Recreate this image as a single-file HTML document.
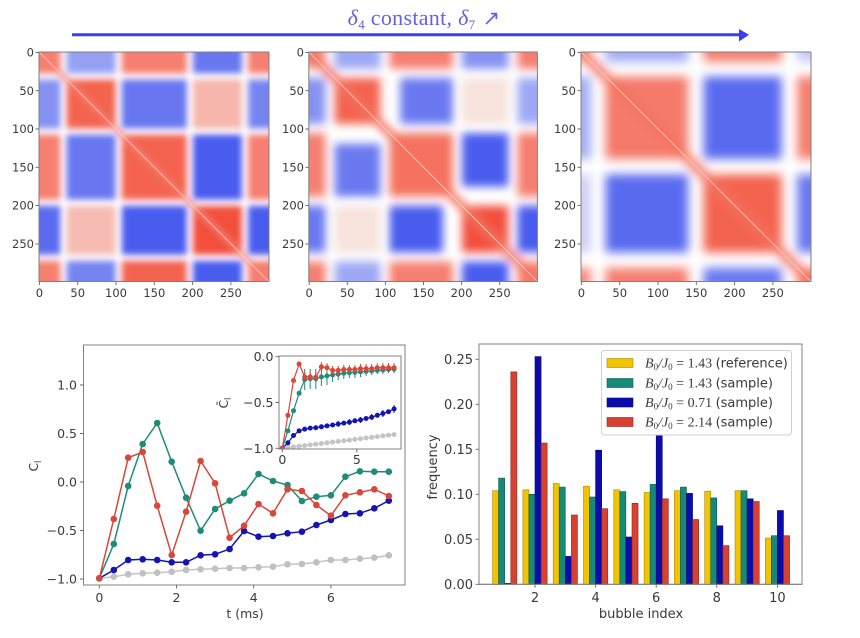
<!DOCTYPE html>
<html><head><meta charset="utf-8"><style>
html,body{margin:0;padding:0;background:#fff;}
svg{display:block;}
text{font-family:"DejaVu Sans","Liberation Sans",sans-serif;fill:#3a3a3a;}
</style></head><body>
<svg width="860" height="638" viewBox="0 0 860 638" xmlns="http://www.w3.org/2000/svg">
<defs>
<filter id="bl1" x="-20%" y="-20%" width="140%" height="140%"><feGaussianBlur stdDeviation="4"/></filter>
<filter id="bl2" x="-20%" y="-20%" width="140%" height="140%"><feGaussianBlur stdDeviation="6"/></filter>
<filter id="bl3" x="-20%" y="-20%" width="140%" height="140%"><feGaussianBlur stdDeviation="6.5"/></filter>
<clipPath id="hc"><rect x="0" y="0" width="300" height="300"/></clipPath>
<clipPath id="insc"><rect x="279" y="356" width="122" height="93"/></clipPath>
<marker id="mR" markerUnits="userSpaceOnUse" markerWidth="8" markerHeight="8" refX="4" refY="4"><circle cx="4" cy="4" r="3.3" fill="#d9463a"/></marker>
<marker id="mT" markerUnits="userSpaceOnUse" markerWidth="8" markerHeight="8" refX="4" refY="4"><circle cx="4" cy="4" r="3.3" fill="#1e8c78"/></marker>
<marker id="mB" markerUnits="userSpaceOnUse" markerWidth="8" markerHeight="8" refX="4" refY="4"><circle cx="4" cy="4" r="3.3" fill="#1414b4"/></marker>
<marker id="mG" markerUnits="userSpaceOnUse" markerWidth="8" markerHeight="8" refX="4" refY="4"><circle cx="4" cy="4" r="3.3" fill="#c0c0c0"/></marker>
<marker id="sR" markerUnits="userSpaceOnUse" markerWidth="6" markerHeight="6" refX="3" refY="3"><circle cx="3" cy="3" r="2.5" fill="#d9463a"/></marker>
<marker id="sT" markerUnits="userSpaceOnUse" markerWidth="6" markerHeight="6" refX="3" refY="3"><circle cx="3" cy="3" r="2.5" fill="#1e8c78"/></marker>
<marker id="sB" markerUnits="userSpaceOnUse" markerWidth="6" markerHeight="6" refX="3" refY="3"><circle cx="3" cy="3" r="2.5" fill="#1414b4"/></marker>
<marker id="sG" markerUnits="userSpaceOnUse" markerWidth="6" markerHeight="6" refX="3" refY="3"><circle cx="3" cy="3" r="2.5" fill="#c4c4c4"/></marker>
</defs>
<rect width="860" height="638" fill="#fff"/>

<!-- Title & arrow -->
<text x="424" y="25" text-anchor="middle" style="font-family:'Liberation Serif',serif;fill:#6262e2" font-size="22" letter-spacing="0.3"><tspan font-style="italic">δ</tspan><tspan font-size="13" dy="4">4</tspan><tspan dy="-4"> constant, </tspan><tspan font-style="italic">δ</tspan><tspan font-size="13" dy="4">7</tspan><tspan dy="-4" style="font-family:'DejaVu Sans',sans-serif" font-size="21"> ↗</tspan></text>
<line x1="72" y1="34.7" x2="741" y2="34.7" stroke="#3c3cf0" stroke-width="3"/>
<polygon points="739,29 749,34.7 739,41.5" fill="#3c3cf0"/>

<!-- Heatmap 1 -->
<g transform="translate(39,52) scale(0.766,0.765)">
 <g clip-path="url(#hc)">
  <rect x="-10" y="-10" width="320" height="320" fill="#fff"/>
  <g filter="url(#bl1)">
   <rect x="-16" y="-16" width="44" height="44" fill="#f57f70"/>
   <rect x="36" y="-16" width="64" height="44" fill="#95a0f3"/>
   <rect x="108" y="-16" width="85" height="44" fill="#f57f70"/>
   <rect x="201" y="-16" width="64" height="44" fill="#6877f0"/>
   <rect x="273" y="-16" width="43" height="44" fill="#f57f70"/>

   <rect x="-16" y="36" width="44" height="64" fill="#8592f2"/>
   <rect x="36" y="36" width="64" height="64" fill="#f3634f"/>
   <rect x="108" y="36" width="85" height="64" fill="#6877f0"/>
   <rect x="201" y="36" width="64" height="64" fill="#f6b6ac"/>
   <rect x="273" y="36" width="43" height="64" fill="#7684f0"/>

   <rect x="-16" y="108" width="44" height="85" fill="#f57f70"/>
   <rect x="36" y="108" width="64" height="85" fill="#6877f0"/>
   <rect x="108" y="108" width="85" height="85" fill="#f3634f"/>
   <rect x="201" y="108" width="64" height="85" fill="#4a5cee"/>
   <rect x="273" y="108" width="43" height="85" fill="#f57f70"/>

   <rect x="-16" y="201" width="44" height="64" fill="#5b6bef"/>
   <rect x="36" y="201" width="64" height="64" fill="#f6bcb3"/>
   <rect x="108" y="201" width="85" height="64" fill="#4a5cee"/>
   <rect x="201" y="201" width="64" height="64" fill="#f2503e"/>
   <rect x="273" y="201" width="43" height="64" fill="#4a5cee"/>

   <rect x="-16" y="273" width="44" height="43" fill="#f57f70"/>
   <rect x="36" y="273" width="64" height="43" fill="#7684f0"/>
   <rect x="108" y="273" width="85" height="43" fill="#f3634f"/>
   <rect x="201" y="273" width="64" height="43" fill="#4a5cee"/>
   <rect x="273" y="273" width="43" height="43" fill="#f57f70"/>
   <line x1="-10" y1="-10" x2="310" y2="310" stroke="#f57f70" stroke-width="6"/>
  </g>
  <line x1="0" y1="0" x2="300" y2="300" stroke="#f9d6c6" stroke-width="1.2" opacity="0.8"/>
 </g>
</g>
<rect x="39" y="52" width="230" height="229.5" fill="none" stroke="#808080" stroke-width="1"/>

<!-- Heatmap 2 -->
<g transform="translate(308.8,52) scale(0.762,0.765)">
 <g clip-path="url(#hc)">
  <rect x="-10" y="-10" width="320" height="320" fill="#fff"/>
  <g filter="url(#bl2)">
   <rect x="-14" y="-14" width="36" height="36" fill="#f58a7c"/>
   <rect x="34" y="-14" width="60" height="36" fill="#9ea8f4"/>
   <rect x="106" y="-14" width="83" height="36" fill="#f57f70"/>
   <rect x="201" y="-14" width="61" height="36" fill="#8592f2"/>
   <rect x="274" y="-14" width="40" height="36" fill="#f57f70"/>

   <rect x="-14" y="34" width="36" height="60" fill="#8592f2"/>
   <rect x="34" y="34" width="60" height="60" fill="#f3634f"/>
   <rect x="120" y="34" width="69" height="60" fill="#6a79f0"/>
   <rect x="201" y="34" width="61" height="60" fill="#f7e2dc"/>
   <rect x="274" y="34" width="40" height="60" fill="#9ea8f4"/>

   <rect x="-14" y="106" width="36" height="83" fill="#f57f70"/>
   <rect x="34" y="120" width="60" height="69" fill="#6a79f0"/>
   <rect x="106" y="106" width="83" height="83" fill="#f4725f"/>
   <rect x="201" y="106" width="61" height="70" fill="#4a5cee"/>
   <rect x="274" y="106" width="40" height="83" fill="#f57f70"/>

   <rect x="-14" y="201" width="36" height="61" fill="#6a79f0"/>
   <rect x="34" y="201" width="60" height="61" fill="#f7e2dc"/>
   <rect x="106" y="201" width="70" height="61" fill="#4a5cee"/>
   <rect x="201" y="201" width="61" height="61" fill="#f2503e"/>
   <rect x="274" y="201" width="40" height="61" fill="#4a5cee"/>

   <rect x="-14" y="274" width="36" height="40" fill="#f57f70"/>
   <rect x="34" y="274" width="60" height="40" fill="#9ea8f4"/>
   <rect x="106" y="274" width="83" height="40" fill="#f57f70"/>
   <rect x="201" y="274" width="61" height="40" fill="#4a5cee"/>
   <rect x="274" y="274" width="40" height="40" fill="#f57f70"/>
   <line x1="-10" y1="-10" x2="310" y2="310" stroke="#f4725f" stroke-width="11"/>
  </g>
  <line x1="0" y1="0" x2="300" y2="300" stroke="#f9d6c6" stroke-width="1.2" opacity="0.8"/>
 </g>
</g>
<rect x="308.8" y="52" width="228.6" height="229.5" fill="none" stroke="#808080" stroke-width="1"/>

<!-- Heatmap 3 -->
<g transform="translate(581,52) scale(0.766,0.765)">
 <g clip-path="url(#hc)">
  <rect x="-10" y="-10" width="320" height="320" fill="#fff"/>
  <g filter="url(#bl3)">
   <rect x="-12" y="-12" width="25" height="25" fill="#f6a194"/>
   <rect x="32" y="-12" width="108" height="25" fill="#a3adf5"/>
   <rect x="160" y="-12" width="102" height="25" fill="#f57f70"/>
   <rect x="282" y="-12" width="30" height="25" fill="#c5cbf7"/>

   <rect x="-12" y="32" width="25" height="108" fill="#a3adf5"/>
   <rect x="32" y="32" width="108" height="108" fill="#f57a6a"/>
   <rect x="160" y="32" width="102" height="108" fill="#5a6aef"/>
   <rect x="282" y="32" width="30" height="108" fill="#f57f70"/>

   <rect x="-12" y="160" width="25" height="102" fill="#cfd0f4"/>
   <rect x="32" y="160" width="108" height="102" fill="#5a6aef"/>
   <rect x="160" y="160" width="102" height="102" fill="#f3634f"/>
   <rect x="282" y="160" width="30" height="102" fill="#6a79f0"/>

   <rect x="-12" y="282" width="25" height="30" fill="#f58a7c"/>
   <rect x="32" y="282" width="108" height="30" fill="#f57f70"/>
   <rect x="160" y="282" width="102" height="30" fill="#6a79f0"/>
   <rect x="282" y="282" width="30" height="30" fill="#f57f70"/>
   <line x1="-10" y1="-10" x2="310" y2="310" stroke="#f4725f" stroke-width="12"/>
  </g>
  <line x1="0" y1="0" x2="300" y2="300" stroke="#f9d6c6" stroke-width="1.2" opacity="0.8"/>
 </g>
</g>
<rect x="581" y="52" width="230" height="229.5" fill="none" stroke="#808080" stroke-width="1"/>

<!-- Heatmap ticks -->
<g stroke="#666" stroke-width="0.9">
 <path d="M35.5 52.4h3.5M35.5 90.7h3.5M35.5 129h3.5M35.5 167.3h3.5M35.5 205.6h3.5M35.5 243.9h3.5"/>
 <path d="M39.4 281.5v3.5M77.7 281.5v3.5M116 281.5v3.5M154.3 281.5v3.5M192.6 281.5v3.5M230.9 281.5v3.5"/>
 <path d="M305.3 52.4h3.5M305.3 90.7h3.5M305.3 129h3.5M305.3 167.3h3.5M305.3 205.6h3.5M305.3 243.9h3.5"/>
 <path d="M309.2 281.5v3.5M347.3 281.5v3.5M385.4 281.5v3.5M423.5 281.5v3.5M461.6 281.5v3.5M499.7 281.5v3.5"/>
 <path d="M577.5 52.4h3.5M577.5 90.7h3.5M577.5 129h3.5M577.5 167.3h3.5M577.5 205.6h3.5M577.5 243.9h3.5"/>
 <path d="M581.4 281.5v3.5M619.7 281.5v3.5M658 281.5v3.5M696.3 281.5v3.5M734.6 281.5v3.5M772.9 281.5v3.5"/>
</g>
<g font-size="11.5" text-anchor="end">
 <text x="34" y="56.5">0</text><text x="34" y="94.8">50</text><text x="34" y="133.1">100</text><text x="34" y="171.4">150</text><text x="34" y="209.7">200</text><text x="34" y="248">250</text>
 <text x="304" y="56.5">0</text><text x="304" y="94.8">50</text><text x="304" y="133.1">100</text><text x="304" y="171.4">150</text><text x="304" y="209.7">200</text><text x="304" y="248">250</text>
 <text x="576" y="56.5">0</text><text x="576" y="94.8">50</text><text x="576" y="133.1">100</text><text x="576" y="171.4">150</text><text x="576" y="209.7">200</text><text x="576" y="248">250</text>
</g>
<g font-size="11.5" text-anchor="middle">
 <text x="39.4" y="297">0</text><text x="77.7" y="297">50</text><text x="116" y="297">100</text><text x="154.3" y="297">150</text><text x="192.6" y="297">200</text><text x="230.9" y="297">250</text>
 <text x="309.2" y="297">0</text><text x="347.3" y="297">50</text><text x="385.4" y="297">100</text><text x="423.5" y="297">150</text><text x="461.6" y="297">200</text><text x="499.7" y="297">250</text>
 <text x="581.4" y="297">0</text><text x="619.7" y="297">50</text><text x="658" y="297">100</text><text x="696.3" y="297">150</text><text x="734.6" y="297">200</text><text x="772.9" y="297">250</text>
</g>

<!-- Bottom-left plot -->
<rect x="83.5" y="345" width="321.5" height="240" fill="#fff" stroke="#808080" stroke-width="1"/>
<g stroke="#666" stroke-width="0.9">
 <path d="M80 385h3.5M80 433.5h3.5M80 482h3.5M80 530.5h3.5M80 579h3.5"/>
 <path d="M99.3 585v3.5M176.5 585v3.5M253.7 585v3.5M330.9 585v3.5"/>
</g>
<g font-size="12.5" text-anchor="end">
 <text x="77" y="389.5">1.0</text><text x="77" y="438">0.5</text><text x="77" y="486.5">0.0</text><text x="77" y="535">−0.5</text><text x="77" y="583.5">−1.0</text>
</g>
<g font-size="12.5" text-anchor="middle">
 <text x="99.3" y="602">0</text><text x="176.5" y="602">2</text><text x="253.7" y="602">4</text><text x="330.9" y="602">6</text>
 <text x="245" y="618">t (ms)</text>
</g>
<text transform="translate(38,466) rotate(-90)" text-anchor="middle" font-size="12">C<tspan font-size="8.5" dy="3">l</tspan></text>

<g fill="none" stroke-width="1.5">
<polyline stroke="#c4c4c4" marker-start="url(#mG)" marker-mid="url(#mG)" marker-end="url(#mG)" points="99.3,578.3 113.8,576.7 128.2,574.3 142.7,573.3 157.2,572.7 171.7,571.7 186.1,570 200.6,569.3 215.1,568.7 229.6,568 244.1,568 258.5,567.3 273,566.7 287.5,564.3 301.9,564 316.4,562.3 330.9,560 345.4,560 359.9,558.7 374.3,557.7 388.8,555.3"/>
<polyline stroke="#1414b4" marker-start="url(#mB)" marker-mid="url(#mB)" marker-end="url(#mB)" points="99.3,578.3 113.8,570 128.2,560 142.7,559.3 157.2,560 171.7,562.3 186.1,562.3 200.6,555.3 215.1,554.3 229.6,549 244.1,531 258.5,536.7 273,536 287.5,533.3 301.9,531.7 316.4,525 330.9,520 345.4,514 359.9,513.3 374.3,508.3 388.8,500.7"/>
<polyline stroke="#1e8c78" marker-start="url(#mT)" marker-mid="url(#mT)" marker-end="url(#mT)" points="99.3,578.3 113.8,544 128.2,486 142.7,444 157.2,423 171.7,461.7 186.1,497.7 200.6,530.7 215.1,509 229.6,500.7 244.1,493.3 258.5,474 273,481 287.5,485 301.9,501 316.4,496.7 330.9,495.3 345.4,476.7 359.9,471.3 374.3,471.7 388.8,471.7"/>
<polyline stroke="#d9463a" marker-start="url(#mR)" marker-mid="url(#mR)" marker-end="url(#mR)" points="99.3,578.3 113.8,519 128.2,457.7 142.7,452 157.2,505.7 171.7,555 186.1,511.7 200.6,461 215.1,483.3 229.6,537.7 244.1,525.7 258.5,504 273,513.3 287.5,489.3 301.9,491 316.4,505 330.9,515.7 345.4,495.3 359.9,492.3 374.3,489.3 388.8,496"/>
</g>

<!-- Inset -->
<rect x="279" y="356" width="122" height="93" fill="#fff" stroke="#808080" stroke-width="1"/>
<g clip-path="url(#insc)" fill="none" stroke-width="1.2">
<polyline stroke="#c4c4c4" marker-start="url(#sG)" marker-mid="url(#sG)" marker-end="url(#sG)" points="282.3,448.3 287.9,447.6 293.5,446.9 299.1,446.2 304.7,445.6 310.2,444.9 315.8,444.2 321.4,443.5 327,442.8 332.6,442.1 338.2,441.4 343.8,440.7 349.4,440.1 354.9,439.4 360.5,438.7 366.1,438 371.7,437.3 377.3,436.6 382.9,435.9 388.5,435.2 394.1,434.6"/>
<polyline stroke="#1414b4" marker-start="url(#sB)" marker-mid="url(#sB)" marker-end="url(#sB)" points="282.3,448.3 287.9,442.8 293.5,435.5 299.1,430.9 304.7,429.1 310.2,428.1 315.8,427.7 321.4,426.8 327,425.9 332.6,425 338.2,424 343.8,423.1 349.4,422.2 354.9,420.8 360.5,419.9 366.1,418.5 371.7,417.2 377.3,415.3 382.9,413.5 388.5,411.7 394.1,408.9"/>
<path stroke="#1414b4" stroke-width="1" d="M338.2 421v6M349.4 419v6M360.5 417v6M371.7 414v6M382.9 410v7M394.1 405v8"/>
<path stroke="#1e8c78" stroke-width="1" d="M304.7 369v21M310.2 369v20M315.8 369v20M321.4 368v18M327 367v18M332.6 368v14M338.2 368v12M343.8 367v12M349.4 367v11M354.9 367v11M360.5 367v10M366.1 367v9M371.7 367v8M377.3 366v8M382.9 366v8M388.5 366v7M394.1 365v8"/>
<polyline stroke="#1e8c78" marker-start="url(#sT)" marker-mid="url(#sT)" marker-end="url(#sT)" points="282.3,448.3 287.9,430.9 293.5,410.7 299.1,393.3 304.7,379.6 310.2,378.7 315.8,378.7 321.4,376.9 327,375.9 332.6,375 338.2,374.1 343.8,373.2 349.4,372.7 354.9,372.3 360.5,371.8 366.1,371.4 371.7,370.9 377.3,370.4 382.9,370 388.5,369.5 394.1,369.1"/>
<path stroke="#d9463a" stroke-width="1" d="M304.7 372v10M310.2 372v10M315.8 372v10M321.4 362v10M327 363v9M332.6 366v9M338.2 366v9M343.8 365v9M349.4 365v9M354.9 365v9M360.5 364v9M366.1 364v9M371.7 364v9M377.3 363v9M382.9 363v9M388.5 363v9M394.1 363v9"/>
<polyline stroke="#d9463a" marker-start="url(#sR)" marker-mid="url(#sR)" marker-end="url(#sR)" points="282.3,448.3 287.9,415.3 293.5,380.5 299.1,364 304.7,376.9 310.2,376.9 315.8,377.3 321.4,366.8 327,367.7 332.6,370.4 338.2,370.4 343.8,369.5 349.4,369.5 354.9,369.5 360.5,368.6 366.1,368.6 371.7,368.6 377.3,367.7 382.9,367.7 388.5,367.7 394.1,367.7"/>
</g>
<rect x="279" y="356" width="122" height="93" fill="none" stroke="#808080" stroke-width="1"/>
<g stroke="#666" stroke-width="0.9">
 <path d="M275.5 356.7h3.5M275.5 402.5h3.5M275.5 448.3h3.5"/>
 <path d="M282.3 449v3.5M356.8 449v3.5"/>
</g>
<g font-size="12.5" text-anchor="end">
 <text x="273.5" y="361">0.0</text><text x="273.5" y="407">−0.5</text><text x="273.5" y="452.8">−1.0</text>
</g>
<g font-size="12.5" text-anchor="middle">
 <text x="282.3" y="464">0</text><text x="356.8" y="464">5</text>
</g>
<text transform="translate(228,403) rotate(-90)" text-anchor="middle" font-size="12">C̄<tspan font-size="8.5" dy="3">l</tspan></text>

<!-- Bar chart -->
<rect x="479" y="344" width="323" height="240.3" fill="#fff" stroke="#808080" stroke-width="1"/>
<g stroke-width="0.6">
 <g fill="#f2c400" stroke="#a88a00">
  <rect x="492.6" y="490.7" width="6.06" height="93.6"/>
  <rect x="522.9" y="489.8" width="6.06" height="94.5"/>
  <rect x="553.2" y="483.5" width="6.06" height="100.8"/>
  <rect x="583.5" y="486.2" width="6.06" height="98.1"/>
  <rect x="613.8" y="489.8" width="6.06" height="94.5"/>
  <rect x="644.1" y="492.5" width="6.06" height="91.8"/>
  <rect x="674.4" y="490.7" width="6.06" height="93.6"/>
  <rect x="704.7" y="491.2" width="6.06" height="93.1"/>
  <rect x="735" y="490.7" width="6.06" height="93.6"/>
  <rect x="765.3" y="538" width="6.06" height="46.3"/>
 </g>
 <g fill="#168a78" stroke="#0c5a4e">
  <rect x="498.6" y="478.1" width="6.06" height="106.2"/>
  <rect x="528.9" y="494.3" width="6.06" height="90"/>
  <rect x="559.2" y="487.1" width="6.06" height="97.2"/>
  <rect x="589.5" y="497" width="6.06" height="87.3"/>
  <rect x="619.8" y="491.6" width="6.06" height="92.7"/>
  <rect x="650.1" y="484.4" width="6.06" height="99.9"/>
  <rect x="680.4" y="487.1" width="6.06" height="97.2"/>
  <rect x="710.7" y="497.9" width="6.06" height="86.4"/>
  <rect x="741" y="490.7" width="6.06" height="93.6"/>
  <rect x="771.3" y="535.7" width="6.06" height="48.6"/>
 </g>
 <g fill="#0c0cae" stroke="#06066e">
  <rect x="504.7" y="583.4" width="6.06" height="0.9"/>
  <rect x="535" y="356.6" width="6.06" height="227.7"/>
  <rect x="565.3" y="556.4" width="6.06" height="27.9"/>
  <rect x="595.6" y="450.2" width="6.06" height="134.1"/>
  <rect x="625.9" y="537" width="6.06" height="47.3"/>
  <rect x="656.2" y="434.9" width="6.06" height="149.4"/>
  <rect x="686.5" y="493.4" width="6.06" height="90.9"/>
  <rect x="716.8" y="525.8" width="6.06" height="58.5"/>
  <rect x="747.1" y="498.8" width="6.06" height="85.5"/>
  <rect x="777.4" y="510.5" width="6.06" height="73.8"/>
 </g>
 <g fill="#d8402f" stroke="#8e2a20">
  <rect x="510.8" y="371.9" width="6.06" height="212.4"/>
  <rect x="541.1" y="443" width="6.06" height="141.3"/>
  <rect x="571.4" y="515" width="6.06" height="69.3"/>
  <rect x="601.7" y="508.7" width="6.06" height="75.6"/>
  <rect x="632" y="503.3" width="6.06" height="81"/>
  <rect x="662.3" y="498.8" width="6.06" height="85.5"/>
  <rect x="692.6" y="519.5" width="6.06" height="64.8"/>
  <rect x="722.9" y="545.6" width="6.06" height="38.7"/>
  <rect x="753.2" y="501.5" width="6.06" height="82.8"/>
  <rect x="783.5" y="535.7" width="6.06" height="48.6"/>
 </g>
</g>
<rect x="479" y="344" width="323" height="240.3" fill="none" stroke="#808080" stroke-width="1"/>
<g stroke="#666" stroke-width="0.9">
 <path d="M475.5 584.3h3.5M475.5 539.3h3.5M475.5 494.3h3.5M475.5 449.3h3.5M475.5 404.3h3.5M475.5 359.3h3.5"/>
 <path d="M535 584.3v3.5M595.6 584.3v3.5M656.2 584.3v3.5M716.8 584.3v3.5M777.4 584.3v3.5"/>
</g>
<g font-size="13" text-anchor="end">
 <text x="473" y="589">0.00</text><text x="473" y="544">0.05</text><text x="473" y="499">0.10</text><text x="473" y="454">0.15</text><text x="473" y="409">0.20</text><text x="473" y="364">0.25</text>
</g>
<g font-size="13" text-anchor="middle">
 <text x="535" y="602">2</text><text x="595.6" y="602">4</text><text x="656.2" y="602">6</text><text x="716.8" y="602">8</text><text x="777.4" y="602">10</text>
 <text x="641" y="618">bubble index</text>
</g>
<text transform="translate(437,467) rotate(-90)" text-anchor="middle" font-size="13">frequency</text>

<!-- Legend -->
<rect x="601.5" y="350.5" width="190" height="84.5" rx="3" fill="#fff" fill-opacity="0.9" stroke="#d0d0d0" stroke-width="1"/>
<rect x="607" y="358.5" width="26" height="9" fill="#f2c400" stroke="#a88a00" stroke-width="0.6"/>
<rect x="607" y="378.5" width="26" height="9" fill="#168a78" stroke="#0c5a4e" stroke-width="0.6"/>
<rect x="607" y="398" width="26" height="9" fill="#0c0cae" stroke="#06066e" stroke-width="0.6"/>
<rect x="607" y="417.5" width="26" height="9" fill="#d8402f" stroke="#8e2a20" stroke-width="0.6"/>
<g font-size="13">
<text x="645" y="367.5"><tspan style="font-family:'Liberation Serif',serif" font-style="italic" font-size="14">B</tspan><tspan style="font-family:'Liberation Serif',serif" font-size="9" dy="2.5">0</tspan><tspan style="font-family:'Liberation Serif',serif" font-style="italic" font-size="14" dy="-2.5">/J</tspan><tspan style="font-family:'Liberation Serif',serif" font-size="9" dy="2.5">0</tspan><tspan style="font-family:'Liberation Serif',serif" font-size="14" dy="-2.5"> = 1.43 </tspan><tspan>(reference)</tspan></text>
<text x="645" y="387.5"><tspan style="font-family:'Liberation Serif',serif" font-style="italic" font-size="14">B</tspan><tspan style="font-family:'Liberation Serif',serif" font-size="9" dy="2.5">0</tspan><tspan style="font-family:'Liberation Serif',serif" font-style="italic" font-size="14" dy="-2.5">/J</tspan><tspan style="font-family:'Liberation Serif',serif" font-size="9" dy="2.5">0</tspan><tspan style="font-family:'Liberation Serif',serif" font-size="14" dy="-2.5"> = 1.43 </tspan><tspan>(sample)</tspan></text>
<text x="645" y="407"><tspan style="font-family:'Liberation Serif',serif" font-style="italic" font-size="14">B</tspan><tspan style="font-family:'Liberation Serif',serif" font-size="9" dy="2.5">0</tspan><tspan style="font-family:'Liberation Serif',serif" font-style="italic" font-size="14" dy="-2.5">/J</tspan><tspan style="font-family:'Liberation Serif',serif" font-size="9" dy="2.5">0</tspan><tspan style="font-family:'Liberation Serif',serif" font-size="14" dy="-2.5"> = 0.71 </tspan><tspan>(sample)</tspan></text>
<text x="645" y="426.5"><tspan style="font-family:'Liberation Serif',serif" font-style="italic" font-size="14">B</tspan><tspan style="font-family:'Liberation Serif',serif" font-size="9" dy="2.5">0</tspan><tspan style="font-family:'Liberation Serif',serif" font-style="italic" font-size="14" dy="-2.5">/J</tspan><tspan style="font-family:'Liberation Serif',serif" font-size="9" dy="2.5">0</tspan><tspan style="font-family:'Liberation Serif',serif" font-size="14" dy="-2.5"> = 2.14 </tspan><tspan>(sample)</tspan></text>
</g>
</svg>
</body></html>
